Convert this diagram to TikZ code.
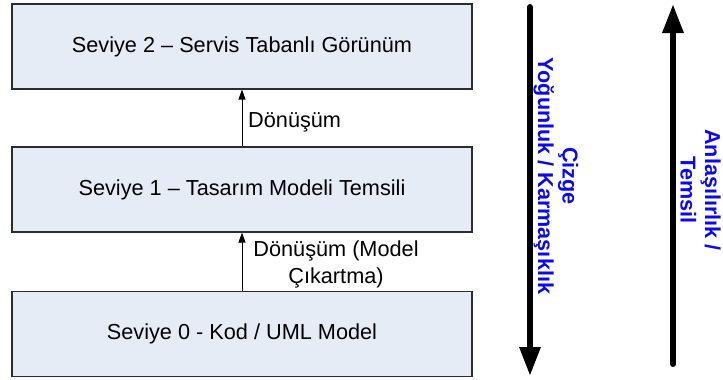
\documentclass[tikz,border=0pt]{standalone}
\usepackage{fontspec}
\setmainfont{Liberation Sans}
\usetikzlibrary{arrows.meta}
\definecolor{boxfill}{RGB}{230,236,246}
\definecolor{boxline}{RGB}{45,45,45}
\definecolor{sidetext}{RGB}{10,10,240}
\tikzset{
  level/.style={draw=boxline, line width=1.1pt, fill=boxfill,
    minimum width=460pt, minimum height=85pt, inner sep=0pt,
    font=\fontsize{21.7}{27}\selectfont},
  steplabel/.style={font=\fontsize{21.7}{27}\selectfont, align=center, inner sep=0pt},
  thinarrow/.style={line width=0.9pt, -{Triangle[width=7pt,length=10pt]}},
  bigarrow/.style={line width=6pt, line cap=round, -{Triangle[width=20pt,length=29pt]}},
  axislabel/.style={font=\bfseries\fontsize{21.6}{24.5}\selectfont, text=sidetext,
    align=center, rotate=-90, inner sep=0pt}
}
\begin{document}
\begin{tikzpicture}[x=1pt, y=-1pt]
  \useasboundingbox (0,0) rectangle (723,380);

  % three abstraction levels
  \node[level] (l2) at (242,46.5) {Seviye 2 – Servis Tabanlı Görünüm};
  \node[level] (l1) at (242,189.5) {Seviye 1 – Tasarım Modeli Temsili};
  \node[level] (l0) at (242,334) {Seviye 0 - Kod / UML Model};

  % transformations between levels
  \draw[thinarrow] (l1.north) -- (l2.south);
  \draw[thinarrow] (l0.north) -- (l1.south);
  \node[steplabel, anchor=west] (t1) at (248,122) {Dönüşüm};
  \node[steplabel] (t0) at (336,264.5) {Dönüşüm (Model\\Çıkartma)};

  % density axis (downwards)
  \coordinate (dtop) at (530,7);
  \coordinate (dbot) at (530,376);
  \draw[bigarrow] (dtop) -- (dbot);
  \node[axislabel] (dlab) at (556,176) {Çizge\\Yoğunluk / Karmaşıklık};

  % understandability axis (upwards)
  \coordinate (utop) at (673,4);
  \coordinate (ubot) at (673,364);
  \draw[bigarrow] (ubot) -- (utop);
  \node[axislabel] (ulab) at (700.5,190) {Anlaşılırlık /\\Temsil};
\end{tikzpicture}
\end{document}
